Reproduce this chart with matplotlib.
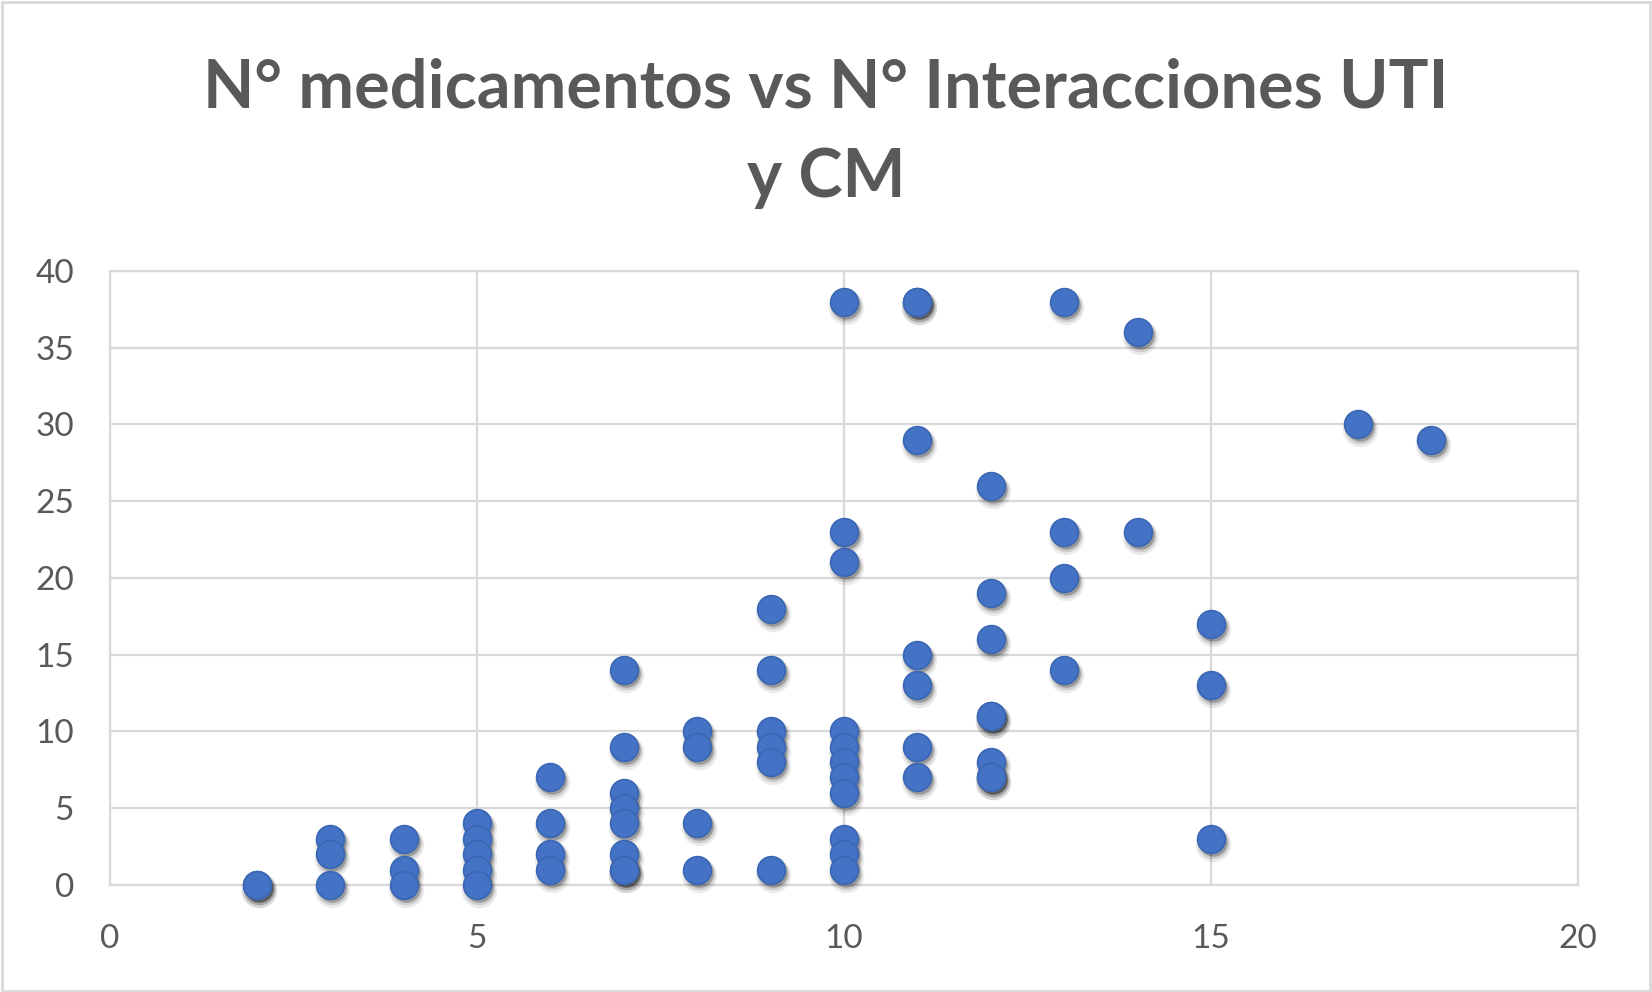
import matplotlib.pyplot as plt
import matplotlib.transforms as mtransforms
from matplotlib.patches import Rectangle

# N° medicamentos (x) vs N° interacciones (y)
n_medicamentos = [2, 2,
                  3, 3, 3,
                  4, 4, 4,
                  5, 5, 5, 5, 5,
                  6, 6, 6, 6,
                  7, 7, 7, 7, 7, 7, 7, 7,
                  8, 8, 8, 8,
                  9, 9, 9, 9, 9, 9,
                  10, 10, 10, 10, 10, 10, 10, 10, 10, 10, 10,
                  11, 11, 11, 11, 11, 11, 11,
                  12, 12, 12, 12, 12, 12, 12, 12,
                  13, 13, 13, 13,
                  14, 14,
                  15, 15, 15,
                  17, 18]
n_interacciones = [0, 0,
                   3, 2, 0,
                   3, 1, 0,
                   4, 3, 2, 1, 0,
                   7, 4, 2, 1,
                   14, 9, 6, 5, 4, 2, 1, 1,
                   10, 9, 4, 1,
                   18, 14, 10, 9, 8, 1,
                   38, 23, 21, 10, 9, 8, 7, 6, 3, 2, 1,
                   38, 38, 29, 15, 13, 9, 7,
                   26, 19, 16, 11, 11, 8, 7, 7,
                   38, 23, 20, 14,
                   36, 23,
                   17, 13, 3,
                   30, 29]

x_ticks = [0, 5, 10, 15, 20]
y_ticks = [0, 5, 10, 15, 20, 25, 30, 35, 40]

gray_text = '#595959'
grid_gray = '#d9d9d9'

fig = plt.figure(figsize=(16.52, 9.92), dpi=100)
ax = fig.add_axes([0.0666, 0.108, 0.8886, 0.619])

# soft shadow under the markers
for dx, dy, a, s in [(2, -5, 0.08, 650), (2, -4, 0.12, 520), (2, -3, 0.25, 420)]:
    shadow = mtransforms.offset_copy(ax.transData, fig=fig, x=dx, y=dy, units='dots')
    ax.scatter(n_medicamentos, n_interacciones, s=s, color='black', alpha=a,
               linewidths=0, transform=shadow, zorder=3, clip_on=False)

ax.scatter(n_medicamentos, n_interacciones, s=400, color='#4472C4',
           edgecolors='#3A66B4', linewidths=1.2, zorder=4, clip_on=False)

ax.set_xlim(0, 20)
ax.set_ylim(0, 40)
ax.set_xticks(x_ticks)
ax.set_yticks(y_ticks)
ax.grid(True, color=grid_gray, linewidth=1.6, zorder=0)
ax.set_axisbelow(True)
for sp in ax.spines.values():
    sp.set_color(grid_gray)
    sp.set_linewidth(1.6)
ax.tick_params(axis='both', length=0, labelsize=24, labelcolor=gray_text)
ax.tick_params(axis='y', pad=26)
ax.tick_params(axis='x', pad=28)
for lbl in ax.get_xticklabels() + ax.get_yticklabels():
    lbl.set_family('Lato')

fig.text(0.5, 0.866, 'N° medicamentos vs N° Interacciones UTI\ny CM',
         ha='center', va='center', fontsize=48, fontweight='bold',
         color=gray_text, family='Lato', linespacing=1.55)

fig.patches.append(Rectangle((0.001, 0.001), 0.998, 0.997, transform=fig.transFigure,
                             fill=False, edgecolor=grid_gray, linewidth=2))

fig.savefig('out.png', dpi=100)
